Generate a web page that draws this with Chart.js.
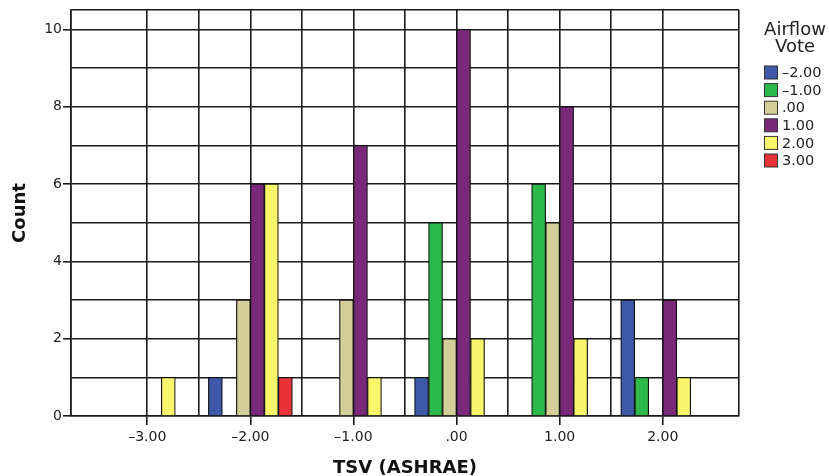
<!DOCTYPE html>
<html>
<head>
<meta charset="utf-8">
<script src="https://cdn.jsdelivr.net/npm/chart.js@4/dist/chart.umd.min.js"></script>
<style>
  html, body { margin: 0; padding: 0; background: #fff; }
  #wrap { width: 829px; height: 476px; }
</style>
</head>
<body>
<div id="wrap"><canvas id="chart" width="829" height="476"></canvas></div>
<script>
// TSV (ASHRAE) categories on the x axis
var tsvValues = [-3, -2, -1, 0, 1, 2];
var tsvLabels = ['\u20133.00', '\u20132.00', '\u20131.00', '.00', '1.00', '2.00'];

// y axis tick labels (every other grid line carries a label)
var countTickValues = [0, 2, 4, 6, 8, 10];
var countTickLabels = ['0', '2', '4', '6', '8', '10'];

// Airflow Vote series, counts per TSV category (null = no bar)
var voteLabels = ['\u20132.00', '\u20131.00', '.00', '1.00', '2.00', '3.00'];
var voteMinus2 = [null, 1, null, 1, null, 3];
var voteMinus1 = [null, null, null, 5, 6, 1];
var voteZero   = [null, 3, 3, 2, 5, null];
var votePlus1  = [null, 6, 7, 10, 8, 3];
var votePlus2  = [1, 6, 1, 2, 2, 1];
var votePlus3  = [null, 1, null, null, null, null];

var voteColors = ['#3d57a9', '#2db84a', '#d4cf98', '#7a2879', '#faf66c', '#e83237'];
var gridColor = '#1a1a1a';
var textColor = '#222';

function toPoints(values) {
    return values.map(function (v, i) { return { x: tsvValues[i], y: v }; });
}

var series = [voteMinus2, voteMinus1, voteZero, votePlus1, votePlus2, votePlus3];
var datasets = series.map(function (values, i) {
    return {
        label: voteLabels[i],
        data: toPoints(values),
        backgroundColor: voteColors[i],
        borderColor: '#111',
        borderWidth: 1.2,
        borderSkipped: 'start',
        barThickness: 14
    };
});

// legend drawn on the right, SPSS style
var sideLegend = {
    id: 'sideLegend',
    afterDraw: function (chart) {
        var ctx = chart.ctx;
        var cx = 795;
        ctx.save();
        ctx.fillStyle = textColor;
        ctx.textAlign = 'center';
        ctx.textBaseline = 'middle';
        ctx.font = '18px "DejaVu Sans"';
        ctx.fillText('Airflow', cx, 30);
        ctx.fillText('Vote', cx, 47);
        ctx.textAlign = 'left';
        ctx.font = '14.5px "DejaVu Sans"';
        chart.data.datasets.forEach(function (ds, i) {
            var y = 73 + i * 17.6;
            ctx.fillStyle = ds.backgroundColor;
            ctx.fillRect(764.5, y - 7, 13, 13);
            ctx.strokeStyle = '#333';
            ctx.lineWidth = 1;
            ctx.strokeRect(764.5, y - 7, 13, 13);
            ctx.fillStyle = textColor;
            ctx.fillText(ds.label, 782, y + 0.5);
        });
        ctx.restore();
    }
};

new Chart(document.getElementById('chart'), {
    type: 'bar',
    data: { datasets: datasets },
    plugins: [sideLegend],
    options: {
        responsive: false,
        animation: false,
        layout: { padding: { left: 0, top: 10, right: 90, bottom: 0 } },
        plugins: {
            legend: { display: false },
            tooltip: { enabled: false }
        },
        scales: {
            x: {
                type: 'linear',
                min: -3.74,
                max: 2.74,
                offset: false,
                afterFit: function (scale) { scale.height = 60; },
                border: { color: gridColor, width: 1.6 },
                grid: {
                    offset: false,
                    color: gridColor,
                    lineWidth: 1.6,
                    tickLength: 9,
                    tickColor: function (c) {
                        return tsvValues.indexOf(c.tick.value) >= 0 ? gridColor : 'rgba(0,0,0,0)';
                    }
                },
                ticks: {
                    stepSize: 0.5,
                    autoSkip: false,
                    maxRotation: 0,
                    padding: 4,
                    color: textColor,
                    font: { family: 'DejaVu Sans', size: 14 },
                    callback: function (value) {
                        var i = tsvValues.indexOf(value);
                        return i >= 0 ? tsvLabels[i] : '';
                    }
                },
                title: {
                    display: true,
                    text: 'TSV (ASHRAE)',
                    color: '#111',
                    padding: { top: 0, bottom: -1 },
                    font: { family: 'DejaVu Sans', size: 18, weight: 'bold', lineHeight: 1 }
                }
            },
            y: {
                min: 0,
                max: 10.5,
                afterFit: function (scale) { scale.width = 71; },
                border: { color: gridColor, width: 1.6 },
                grid: {
                    color: gridColor,
                    lineWidth: 1.6,
                    tickLength: 8,
                    tickColor: function (c) {
                        return countTickValues.indexOf(c.tick.value) >= 0 ? gridColor : 'rgba(0,0,0,0)';
                    }
                },
                ticks: {
                    stepSize: 1,
                    autoSkip: false,
                    padding: 1,
                    color: textColor,
                    font: { family: 'DejaVu Sans', size: 14 },
                    callback: function (value) {
                        var i = countTickValues.indexOf(value);
                        return i >= 0 ? countTickLabels[i] : '';
                    }
                },
                title: {
                    display: true,
                    text: 'Count',
                    color: '#111',
                    padding: { top: 11, bottom: 0 },
                    font: { family: 'DejaVu Sans', size: 18, weight: 'bold', lineHeight: 1 }
                }
            }
        }
    }
});
</script>
</body>
</html>
